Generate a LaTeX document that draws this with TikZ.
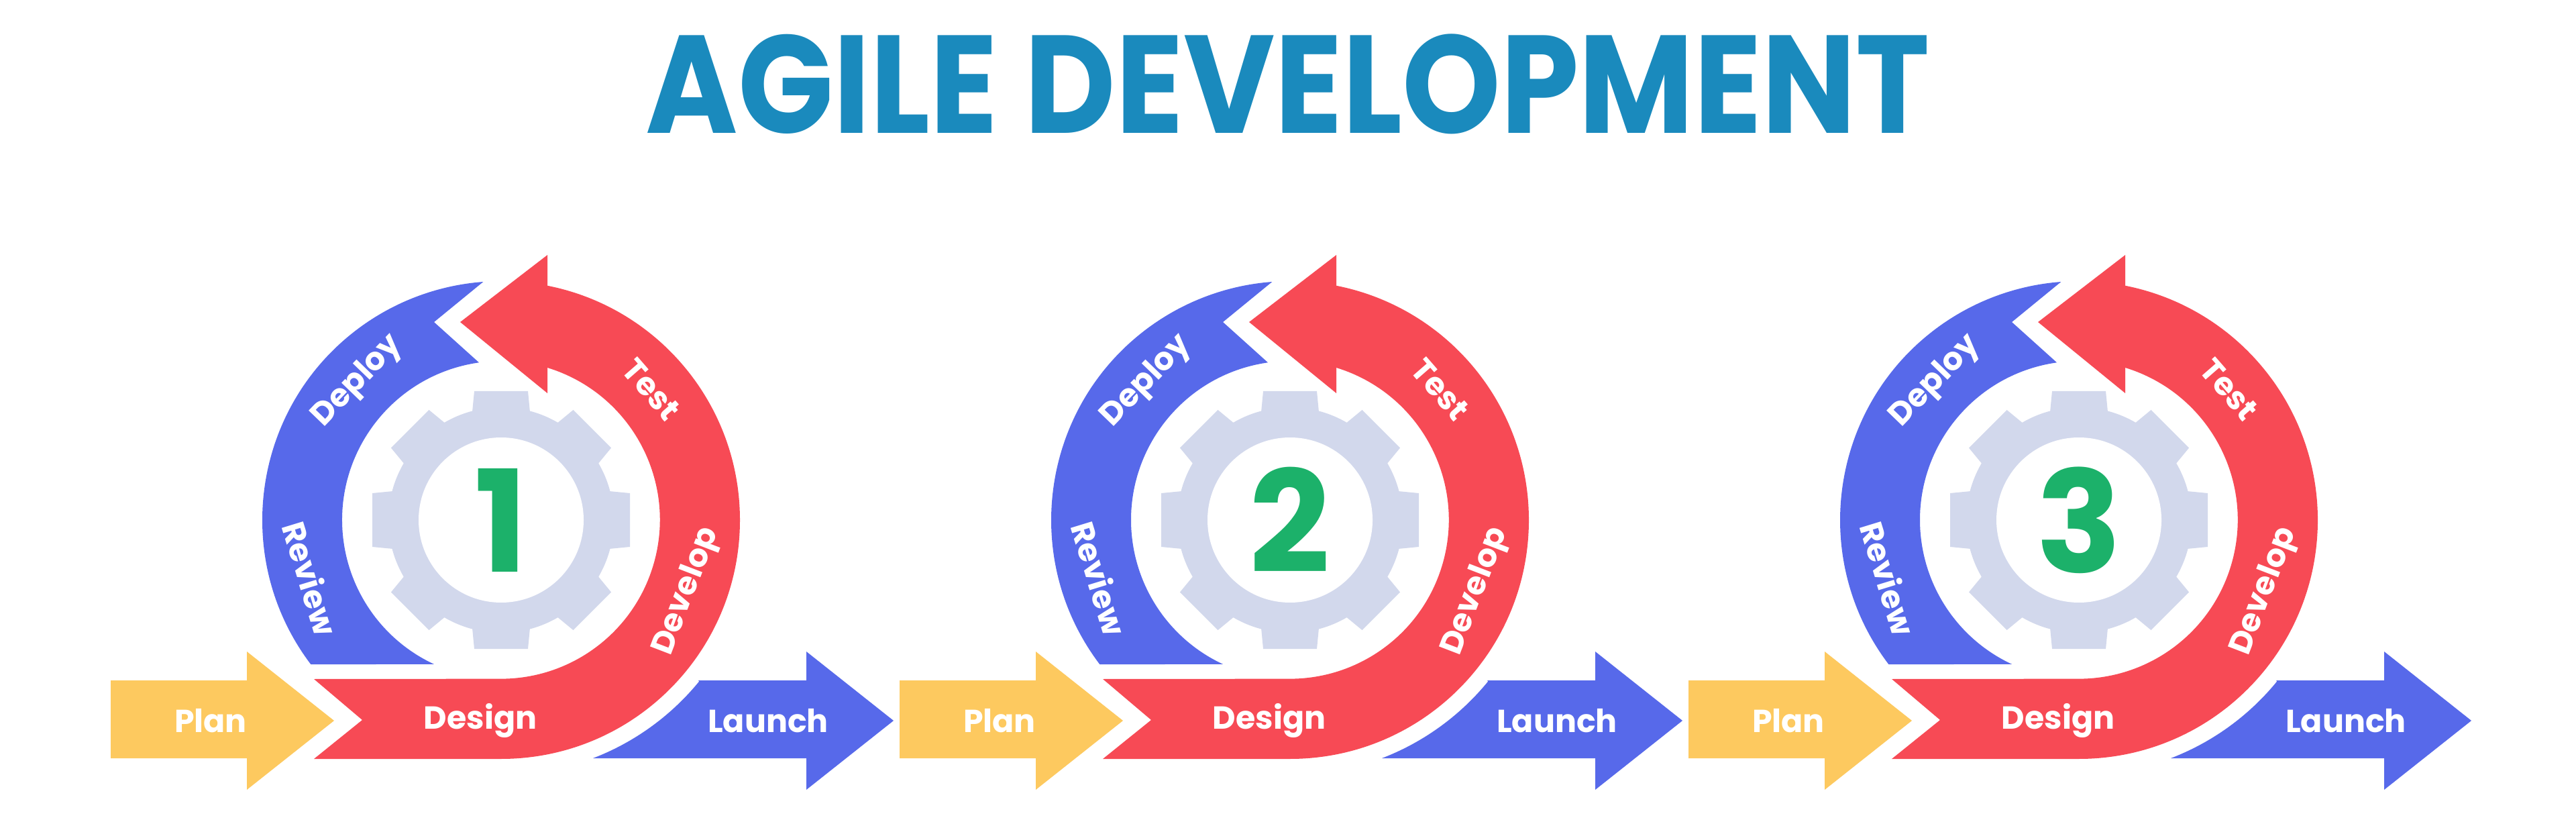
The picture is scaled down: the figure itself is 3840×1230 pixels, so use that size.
\documentclass[tikz,border=0pt]{standalone}
\usepackage{fontspec}
\setmainfont{Poppins}
\definecolor{cred}{HTML}{F74A55}
\definecolor{cblue}{HTML}{5769EA}
\definecolor{cyel}{HTML}{FDC95F}
\definecolor{cgear}{HTML}{D2D8EC}
\definecolor{cgreen}{HTML}{1CB16A}
\definecolor{ctitle}{HTML}{1A8ABD}
\begin{document}
\begin{tikzpicture}[x=0.01cm,y=0.01cm,
  lbl/.style={text=white,font=\fontsize{13.5}{14}\selectfont\bfseries,inner sep=0},
  num/.style={text=cgreen,font=\fontsize{60}{60}\selectfont\bfseries,inner sep=0}]
\useasboundingbox (0,0) rectangle (3840,1230);
\fill[white] (0,0) rectangle (3840,1230);
\node[text=ctitle,font=\fontsize{59}{59}\selectfont\bfseries,inner sep=0] (title) at (1920,1105) {\scalebox{0.9}[1]{AGILE DEVELOPMENT}};
\foreach \cx/\n in {747/1,1923/2,3099/3}{
 \begin{scope}[shift={(\cx,455)}]
  % gear
  \fill[cgear] (0,0) circle (168);
  \foreach \a in {0,45,...,315}{
    \fill[cgear,rotate=\a] (140,-45) -- (192,-40) -- (192,40) -- (140,45) -- cycle;}
  \fill[white] (0,0) circle (123);
  \node[num] (n\n) at (0,0) {\n};
  % red
  \fill[cred] (-279,-237) -- (-207,-298) -- (-279,-356) -- (0,-356)
     arc[start angle=-90,end angle=79,radius=356] -- (69,227)
     arc[start angle=73,end angle=-90,radius=237] -- cycle;
  \fill[cred] (69,395) -- (-61,295) -- (69,189) -- cycle;
  % blue
  \fill[cblue] (217.2:356) arc[start angle=217.2,end angle=94.3,radius=356]
     -- (-100,295) -- (98:237) arc[start angle=98,end angle=245,radius=237] -- cycle;
  % plan
  \fill[cyel] (-582,-239) -- (-379,-239) -- (-379,-196) -- (-249,-299) -- (-379,-402) -- (-379,-355) -- (-582,-355) -- cycle;
  % launch
  \fill[cblue] (294,-239) -- (455,-239) -- (455,-196) -- (585,-299) -- (455,-402) -- (455,-355) -- (137,-355)
     arc[start angle=-69,end angle=-39.2,radius=380] -- cycle;
  \node[lbl] (plan\n) at (-433,-299) {Plan};
  \node[lbl] (design\n) at (-31,-299) {Design};
  \node[lbl] (launch\n) at (398,-299) {Launch};
  \node[lbl,rotate=46] (deploy\n) at (136:297) {Deploy};
  \node[lbl,rotate=-73] (review\n) at (197:297) {Review};
  \node[lbl,rotate=-49] (test\n) at (41:297) {Test};
  \node[lbl,rotate=69] (develop\n) at (-21:297) {Develop};
 \end{scope}
}
\end{tikzpicture}
\end{document}
